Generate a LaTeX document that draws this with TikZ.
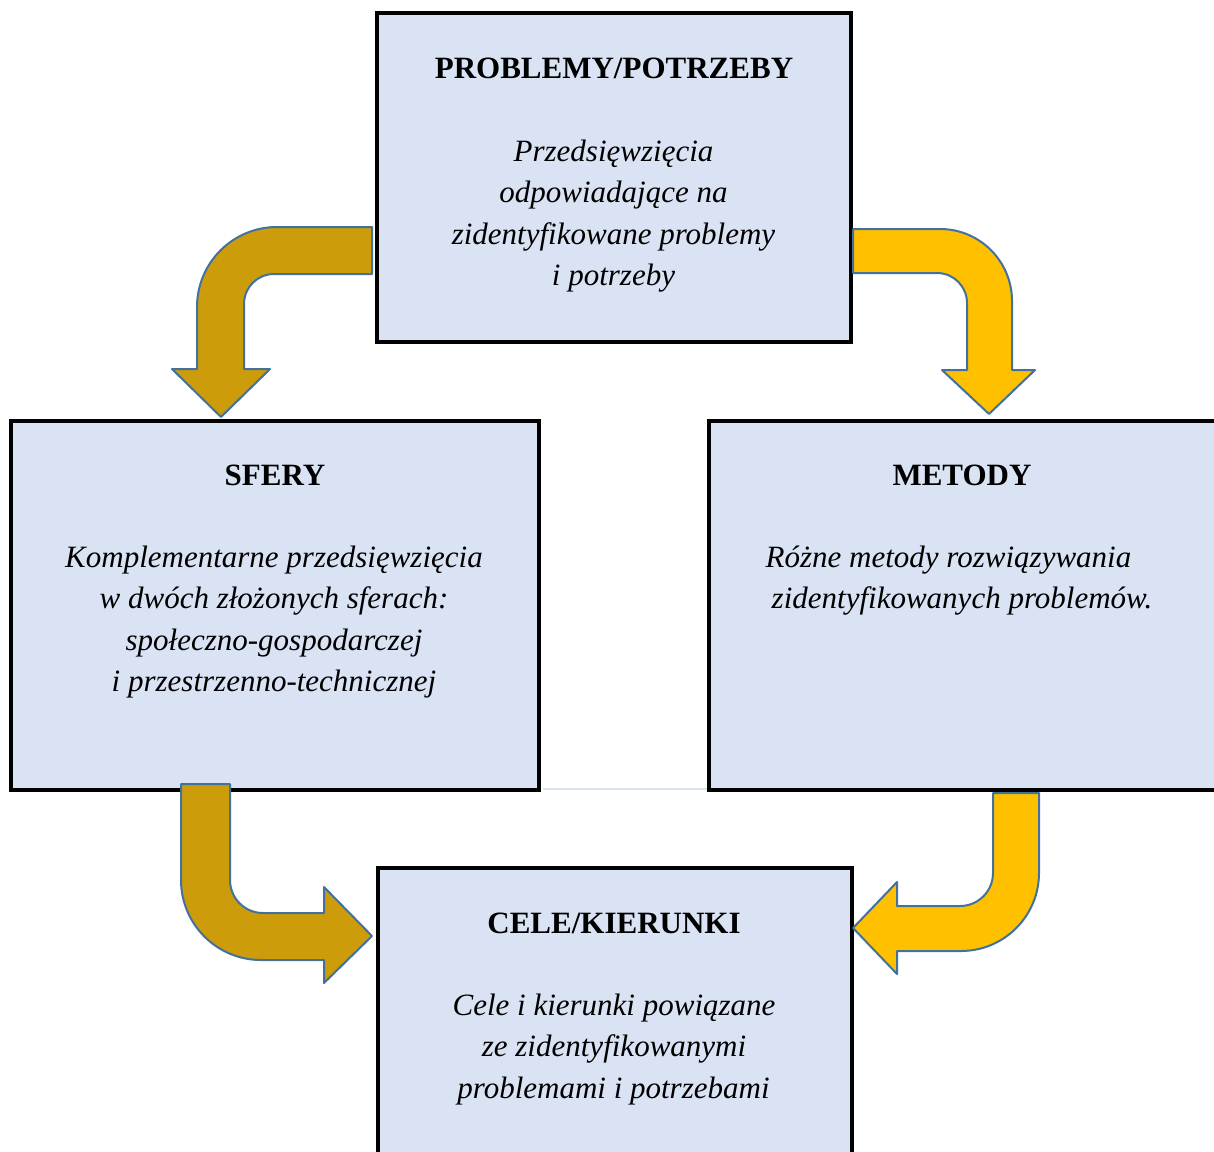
\documentclass[tikz,border=0pt]{standalone}
\usepackage{fontspec}
\setmainfont{Liberation Serif}
\definecolor{boxfill}{HTML}{DAE3F3}
\definecolor{darkgold}{HTML}{CC9C0A}
\definecolor{gold}{HTML}{FFC000}
\definecolor{edgeblue}{HTML}{41719C}
\tikzset{
  box/.style={draw=black, line width=2pt, fill=boxfill, inner sep=0pt},
  ttl/.style={anchor=base, inner sep=0pt, font=\fontsize{15.5}{20}\selectfont\bfseries},
  txt/.style={anchor=base, inner sep=0pt, font=\fontsize{15.5}{20}\selectfont\itshape},
  bend1/.style={fill=darkgold, draw=edgeblue, line width=1pt, line join=round},
  bend2/.style={fill=gold, draw=edgeblue, line width=1pt, line join=round},
}
\begin{document}
\begin{tikzpicture}[x=0.5pt, y=-0.5pt]
\useasboundingbox (0,0) rectangle (1214,1151);
\clip (0,0) rectangle (1214,1151);
% boxes
\node[box, minimum width=237pt, minimum height=164.5pt] (prob) at (614,177.5) {};
\node[box, minimum width=264.25pt, minimum height=184.75pt] (sfery) at (274.75,605.25) {};
\node[box, minimum width=265.5pt, minimum height=184.75pt] (metody) at (974.5,605.25) {};
\node[box, minimum width=236.75pt, minimum height=156pt] (cele) at (614.75,1024) {};
\draw[boxfill, line width=0.6pt] (sfery.south east) ++(2,-3) coordinate (gl) -- (gl -| metody.south west);
% texts
\node[ttl] (t1) at (614,78) {PROBLEMY/POTRZEBY};
\node[txt] (p1) at (613.5,161) {Przedsięwzięcia};
\node[txt] (p2) at (613.5,202.5) {odpowiadające na};
\node[txt] (p3) at (613.5,244) {zidentyfikowane problemy};
\node[txt] (p4) at (613.5,285.5) {i potrzeby};
\node[ttl] (t2) at (275,485) {SFERY};
\node[txt] (s1) at (274,567) {Komplementarne przedsięwzięcia};
\node[txt] (s2) at (274,608.5) {w dwóch złożonych sferach:};
\node[txt] (s3) at (274,650) {społeczno-gospodarczej};
\node[txt] (s4) at (274,691.5) {i przestrzenno-technicznej};
\node[ttl] (t3) at (962,485) {METODY};
\node[txt] (m1) at (948.5,567) {Różne metody rozwiązywania};
\node[txt] (m2) at (962,608.5) {zidentyfikowanych problemów.};
\node[ttl] (t4) at (614,933) {CELE/KIERUNKI};
\node[txt] (c1) at (614,1015) {Cele i kierunki powiązane};
\node[txt] (c2) at (614,1056.5) {ze zidentyfikowanymi};
\node[txt] (c3) at (613.5,1098) {problemami i potrzebami};
% bent arrows
\draw[bend1] (372,227) -- (277,227) arc[start angle=270, end angle=180, radius=80]
  -- (197,369) -- (172,369) -- (221,417) -- (270,369) -- (244,369) -- (244,304)
  arc[start angle=180, end angle=270, radius=30] -- (372,274) -- cycle;
\draw[bend2] (853,229) -- (940,229) arc[start angle=270, end angle=360, radius=72]
  -- (1012,370) -- (1035,370) -- (989,414) -- (942,370) -- (967,370) -- (967,303)
  arc[start angle=0, end angle=-90, radius=30] -- (853,273) -- cycle;
\draw[bend1] (181,784) -- (181,880) arc[start angle=180, end angle=90, radius=80]
  -- (324,960) -- (324,983) -- (372,936) -- (324,887) -- (324,913) -- (263,913)
  arc[start angle=90, end angle=180, radius=33] -- (230,784) -- cycle;
\draw[bend2] (1039,793) -- (1039,873) arc[start angle=0, end angle=90, radius=78]
  -- (897,951) -- (897,974) -- (853,928) -- (897,882) -- (897,906) -- (960,906)
  arc[start angle=90, end angle=0, radius=33] -- (993,793) -- cycle;
\end{tikzpicture}
\end{document}
